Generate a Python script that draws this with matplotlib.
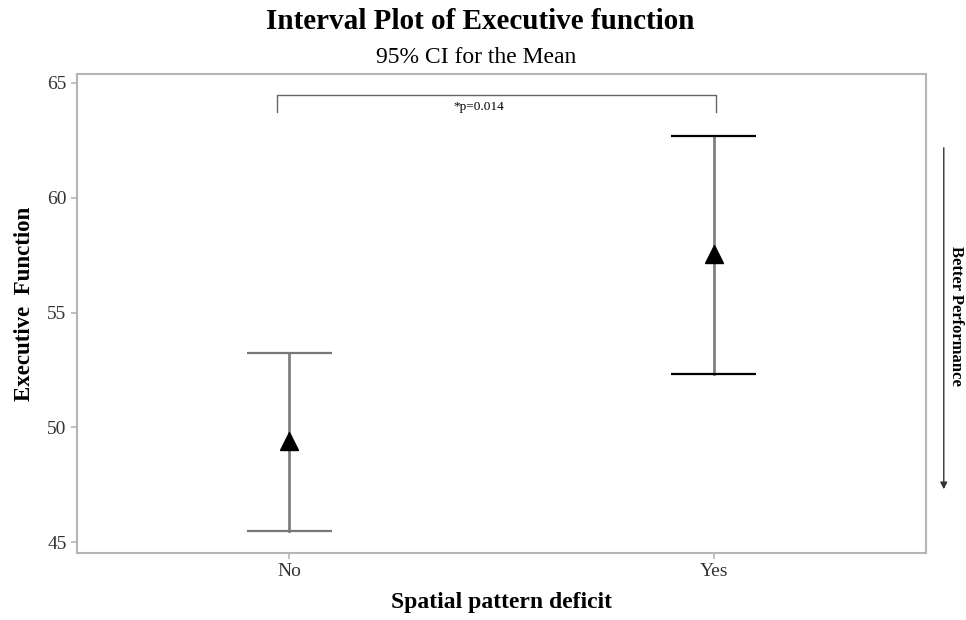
import numpy as np
import matplotlib
matplotlib.use('Agg')
from matplotlib import pyplot as plt

# data
groups = ['No', 'Yes']
means = [49.42, 57.56]
ci_low = [45.48, 52.30]
ci_high = [53.23, 62.70]
p_label = '*p=0.014'

plt.rcParams['font.family'] = ['Liberation Serif', 'DejaVu Serif']

fig = plt.figure(figsize=(9.66, 6.2), dpi=100)
ax = fig.add_axes([0.0797, 0.108, 0.879, 0.7726])

x = np.arange(len(groups))
cap_colors = ['#777777', 'black']
for i in range(len(groups)):
    # vertical CI line
    ax.plot([x[i], x[i]], [ci_low[i], ci_high[i]], color='#808080', lw=2, zorder=2)
    # caps
    ax.hlines([ci_low[i], ci_high[i]], x[i] - 0.1, x[i] + 0.1, color=cap_colors[i], lw=1.6, zorder=2)
    # mean marker
    ax.plot(x[i], means[i], marker='^', color='black', markersize=13, zorder=3)

ax.set_xlim(-0.5, 1.5)
ax.set_ylim(44.52, 65.39)
ax.set_xticks(x)
ax.set_xticklabels(groups)
ax.set_yticks([45, 50, 55, 60, 65])

for s in ax.spines.values():
    s.set_color('#b5b5b5')
    s.set_linewidth(1.5)
ax.tick_params(colors='#b5b5b5', labelcolor='#333333', labelsize=14, length=4, width=1.2)

ax.set_xlabel('Spatial pattern deficit', fontsize=17, fontweight='bold', labelpad=8)
ax.set_ylabel('Executive  Function', fontsize=16.5, fontweight='bold')
ax.yaxis.set_label_coords(-0.049, 0.52)

# significance bracket
ax.plot([-0.028, -0.028, 1.005, 1.005], [63.74, 64.48, 64.48, 63.74], color='#666666', lw=1, clip_on=False)
ax.text(0.447, 63.95, p_label, ha='center', va='center', fontsize=9.5)

# titles
fig.text(0.497, 0.966, 'Interval Plot of Executive function', ha='center', va='center',
         fontsize=21, fontweight='bold')
fig.text(0.493, 0.908, '95% CI for the Mean', ha='center', va='center', fontsize=17)

# right side arrow
fig.patches.append(matplotlib.patches.FancyArrowPatch(
    (0.977, 1 - 145 / 620), (0.977, 1 - 492 / 620), transform=fig.transFigure,
    arrowstyle='-|>', mutation_scale=10, color='#333333', lw=1))
fig.text(0.99, 1 - 316 / 620, 'Better Performance', rotation=-90, ha='center', va='center',
         fontsize=12, fontweight='bold')

fig.savefig('out.png', dpi=100)
